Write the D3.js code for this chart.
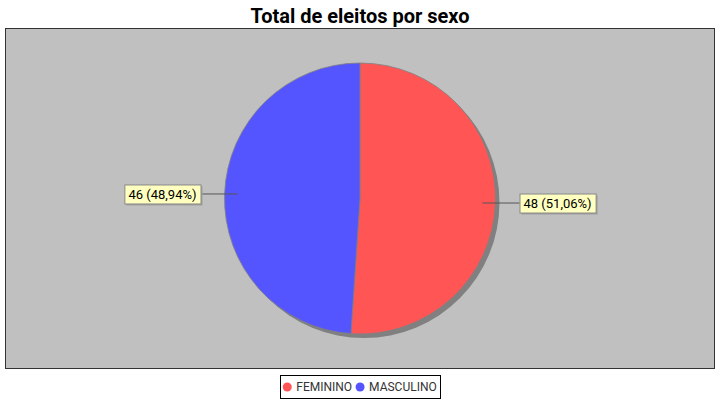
<!DOCTYPE html>
<html><head><meta charset="utf-8">
<script src="https://cdn.jsdelivr.net/npm/d3@7"></script>
<style>body{margin:0;background:#fff}svg{display:block}</style>
</head><body>
<script>
const title = "Total de eleitos por sexo";
const categories = ["FEMININO", "MASCULINO"];
const values = [48, 46];
const colors = ["#FF5555", "#5555FF"];

const W = 720, H = 400;
const svg = d3.select("body").append("svg").attr("width", W).attr("height", H)
  .style("font-family", "Roboto, sans-serif");

svg.append("text").attr("x", 360).attr("y", 23).attr("text-anchor", "middle")
  .attr("font-size", 20).attr("font-weight", "bold").attr("fill", "#000").text(title);

// plot area
svg.append("rect").attr("x", 5.5).attr("y", 28.5).attr("width", 709).attr("height", 340)
  .attr("fill", "#C0C0C0").attr("stroke", "#333").attr("stroke-width", 1);

const cx = 360, cy = 198.5, r = 135.5;
const total = d3.sum(values);
const pie = d3.pie().sort(null).value(d => d)(values);
const arc = d3.arc().innerRadius(0).outerRadius(r);

const g = svg.append("g").attr("transform", `translate(${cx},${cy})`);
// shadow
g.append("circle").attr("cx", 4).attr("cy", 4).attr("r", r).attr("fill", "#808080");
g.selectAll("path.slice").data(pie).join("path").attr("class", "slice")
  .attr("d", arc).attr("fill", (d, i) => colors[i])
  .attr("stroke", "#808080").attr("stroke-width", 0.8);

const fmt = v => (v / total * 100).toFixed(2).replace(".", ",");
const labelGap = 24; // distance from rim to label box
pie.forEach((d, i) => {
  const mid = (d.startAngle + d.endAngle) / 2;
  const sx = Math.sin(mid), sy = -Math.cos(mid);
  const right = sx >= 0;
  const y = sy * r;
  const txt = `${values[i]} (${fmt(values[i])}%)`;
  const x0 = sx * (r - 13);
  const bx = right ? r + labelGap : -r - labelGap;
  g.append("line").attr("x1", x0).attr("y1", y).attr("x2", bx).attr("y2", y)
    .attr("stroke", "#555").attr("stroke-width", 1);
  const t = g.append("text").attr("font-size", 13).attr("fill", "#000")
    .attr("dominant-baseline", "central").text(txt);
  const tw = t.node().getComputedTextLength();
  const pad = 4, bh = 19;
  const bxL = right ? bx : bx - tw - 2 * pad;
  t.attr("x", bxL + pad).attr("y", y + 0.5);
  g.insert("rect", "text:last-of-type").attr("x", bxL + 2).attr("y", y - bh / 2 + 2)
    .attr("width", tw + 2 * pad).attr("height", bh).attr("fill", "#A0A0A0");
  g.insert("rect", "text:last-of-type").attr("x", bxL + 0.5).attr("y", y - bh / 2 + 0.5)
    .attr("width", tw + 2 * pad).attr("height", bh).attr("fill", "#FFFFC0")
    .attr("stroke", "#888").attr("stroke-width", 1);
});

// legend
const lg = svg.append("g");
const items = lg.selectAll("g").data(categories).join("g");
let xoff = 0;
items.each(function (c, i) {
  const gi = d3.select(this);
  gi.append("circle").attr("cx", 4).attr("cy", 0).attr("r", 4.5).attr("fill", colors[i]);
  const t = gi.append("text").attr("x", 13).attr("y", 0).attr("dominant-baseline", "central")
    .attr("font-size", 12).attr("fill", "#333").text(c);
  const w = 13 + t.node().getComputedTextLength();
  gi.attr("transform", `translate(${xoff},0)`);
  xoff += w + 4;
});
const lw = xoff - 4 + 6;
const lx = 360 - lw / 2;
lg.attr("transform", `translate(${lx + 3},${387})`);
svg.insert("rect", "g:last-of-type").attr("x", Math.round(lx) + 0.5).attr("y", 375.5)
  .attr("width", Math.round(lw)).attr("height", 23).attr("fill", "#fff").attr("stroke", "#000");
</script>
</body></html>
